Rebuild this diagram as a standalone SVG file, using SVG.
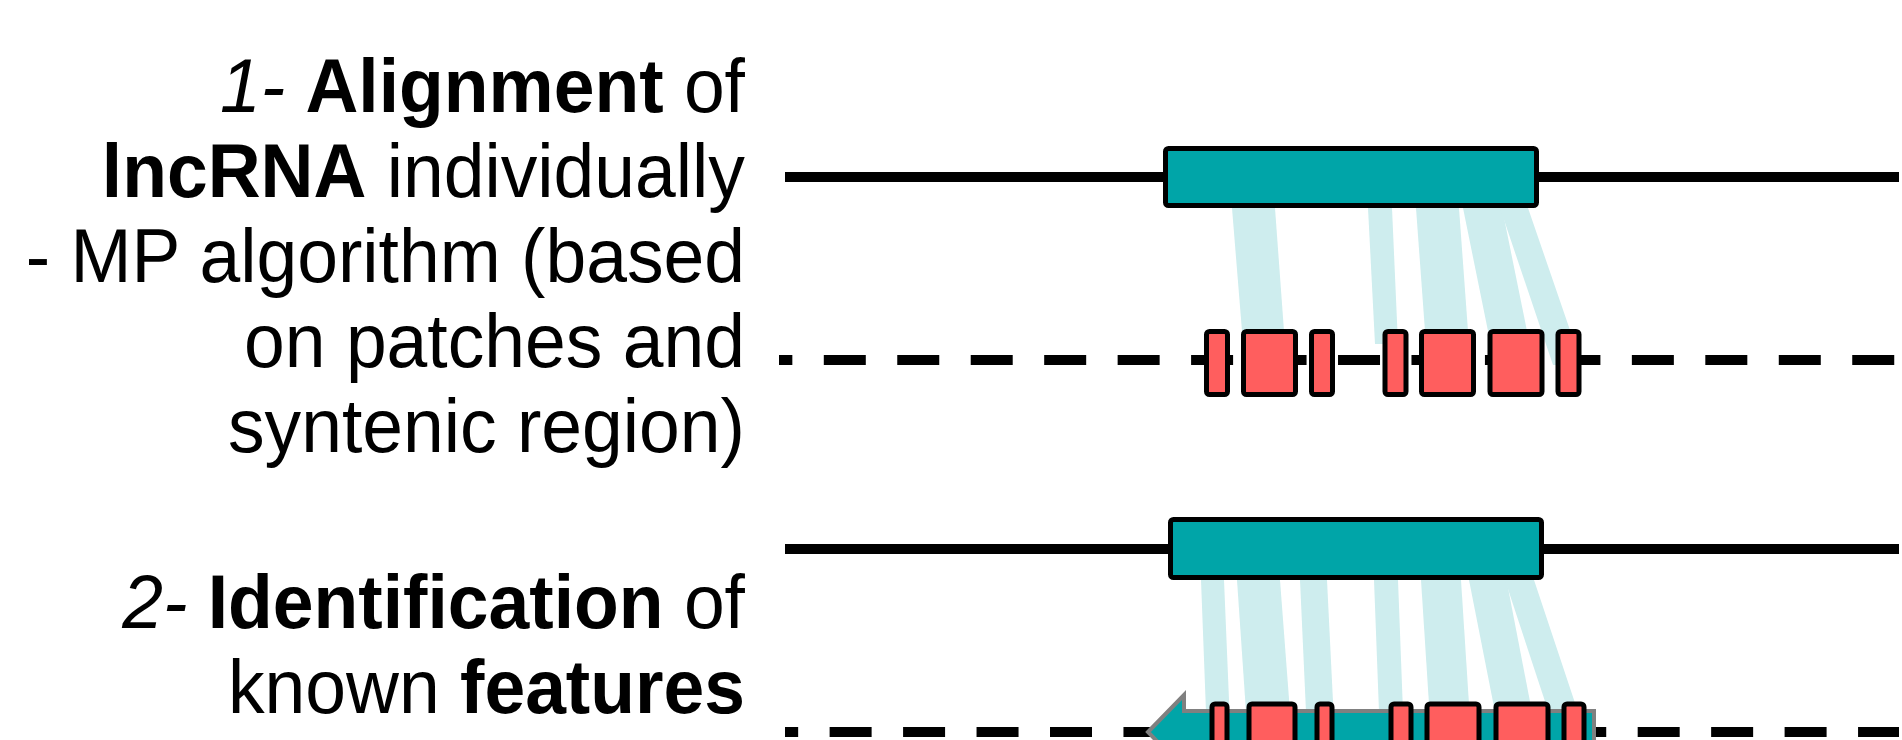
<svg xmlns="http://www.w3.org/2000/svg" width="1902" height="740" viewBox="0 0 1902 740">
<style>
.lbl{font-family:"Liberation Sans",Arial,sans-serif;font-size:76px;fill:#000;text-anchor:end}
.it{font-style:italic}
.b{font-weight:bold}
.track{stroke:#000;stroke-width:10;fill:none}
.dash{stroke:#000;stroke-width:10;fill:none;stroke-dasharray:42 31.46}
.lnc{fill:#00A5A8;stroke:#000;stroke-width:5}
.exon{fill:#FF5E5E;stroke:#000;stroke-width:5}
.link{fill:#CEEDEE}
.gene{fill:#00A5A8;stroke:#808080;stroke-width:4}
</style>
<rect width="1902" height="740" fill="#fff"/>
<g id="labels" transform="scale(0.964,1)">
<text class="lbl" x="772.8" y="112"><tspan class="it">1-</tspan> <tspan class="b">Alignment</tspan> of</text>
<text class="lbl" x="772.8" y="197"><tspan class="b">lncRNA</tspan> individually</text>
<text class="lbl" x="772.8" y="282">- MP algorithm (based</text>
<text class="lbl" x="772.8" y="367">on patches and</text>
<text class="lbl" x="772.8" y="452">syntenic region)</text>
<text class="lbl" x="772.8" y="628"><tspan class="it">2-</tspan> <tspan class="b">Identification</tspan> of</text>
<text class="lbl" x="772.8" y="713">known <tspan class="b">features</tspan></text>
</g>
<g id="connectors">
<g id="links1">
<polygon class="link" points="1232,208 1275,208 1284,331 1242,331"/>
<polygon class="link" points="1368,208 1392,208 1398,344 1375,344"/>
<polygon class="link" points="1416,208 1459,208 1468,331 1425,331"/>
<polygon class="link" points="1463,208 1502,208 1527,331 1488,331"/>
<polygon class="link" points="1500,208 1528,208 1582,365 1553,365"/>
</g>
<g id="links2">
<polygon class="link" points="1201,580 1224,580 1229.5,712 1206,712"/>
<polygon class="link" points="1237,580 1280,580 1290,712 1246,712"/>
<polygon class="link" points="1300,580 1327,580 1333.5,712 1306,712"/>
<polygon class="link" points="1374,580 1398,580 1403,712 1379,712"/>
<polygon class="link" points="1421,580 1461,580 1469.5,712 1429.5,712"/>
<polygon class="link" points="1469,580 1506.5,580 1532,712 1495,712"/>
<polygon class="link" points="1505,580 1534,580 1578,712 1548.5,712"/>
</g>
</g>
<g id="lncrna1">
<line class="track" x1="785" y1="177" x2="1899" y2="177"/>
<rect class="lnc" x="1165.5" y="148.5" width="371" height="57" rx="3"/>
</g>
<g id="target1">
<line class="dash" x1="779" y1="360" x2="1899" y2="360" stroke-dashoffset="28.66"/>
<rect class="exon" x="1206.5" y="331.5" width="21" height="63" rx="3"/>
<rect class="exon" x="1243.5" y="331.5" width="52" height="63" rx="3"/>
<rect class="exon" x="1311.5" y="331.5" width="21" height="63" rx="3"/>
<rect class="exon" x="1385" y="331.5" width="21" height="63" rx="3"/>
<rect class="exon" x="1421.5" y="331.5" width="52" height="63" rx="3"/>
<rect class="exon" x="1490" y="331.5" width="52" height="63" rx="3"/>
<rect class="exon" x="1558" y="331.5" width="21" height="63" rx="3"/>
</g>
<g id="lncrna2">
<line class="track" x1="785" y1="549" x2="1899" y2="549"/>
<rect class="lnc" x="1170.5" y="519.5" width="371" height="58" rx="3"/>
</g>
<g id="target2">
<line class="dash" x1="785" y1="732" x2="1899" y2="732" stroke-dashoffset="28.84"/>
<polygon class="gene" points="1148,732 1184,695 1184,711 1594,711 1594,753 1184,753 1184,769"/>
<rect class="exon" x="1212" y="704" width="15" height="63" rx="3"/>
<rect class="exon" x="1249" y="704" width="46" height="63" rx="3"/>
<rect class="exon" x="1317" y="704" width="15" height="63" rx="3"/>
<rect class="exon" x="1391" y="704" width="20" height="63" rx="3"/>
<rect class="exon" x="1427" y="704" width="52" height="63" rx="3"/>
<rect class="exon" x="1496" y="704" width="52" height="63" rx="3"/>
<rect class="exon" x="1564" y="704" width="20" height="63" rx="3"/>
</g>
</svg>
